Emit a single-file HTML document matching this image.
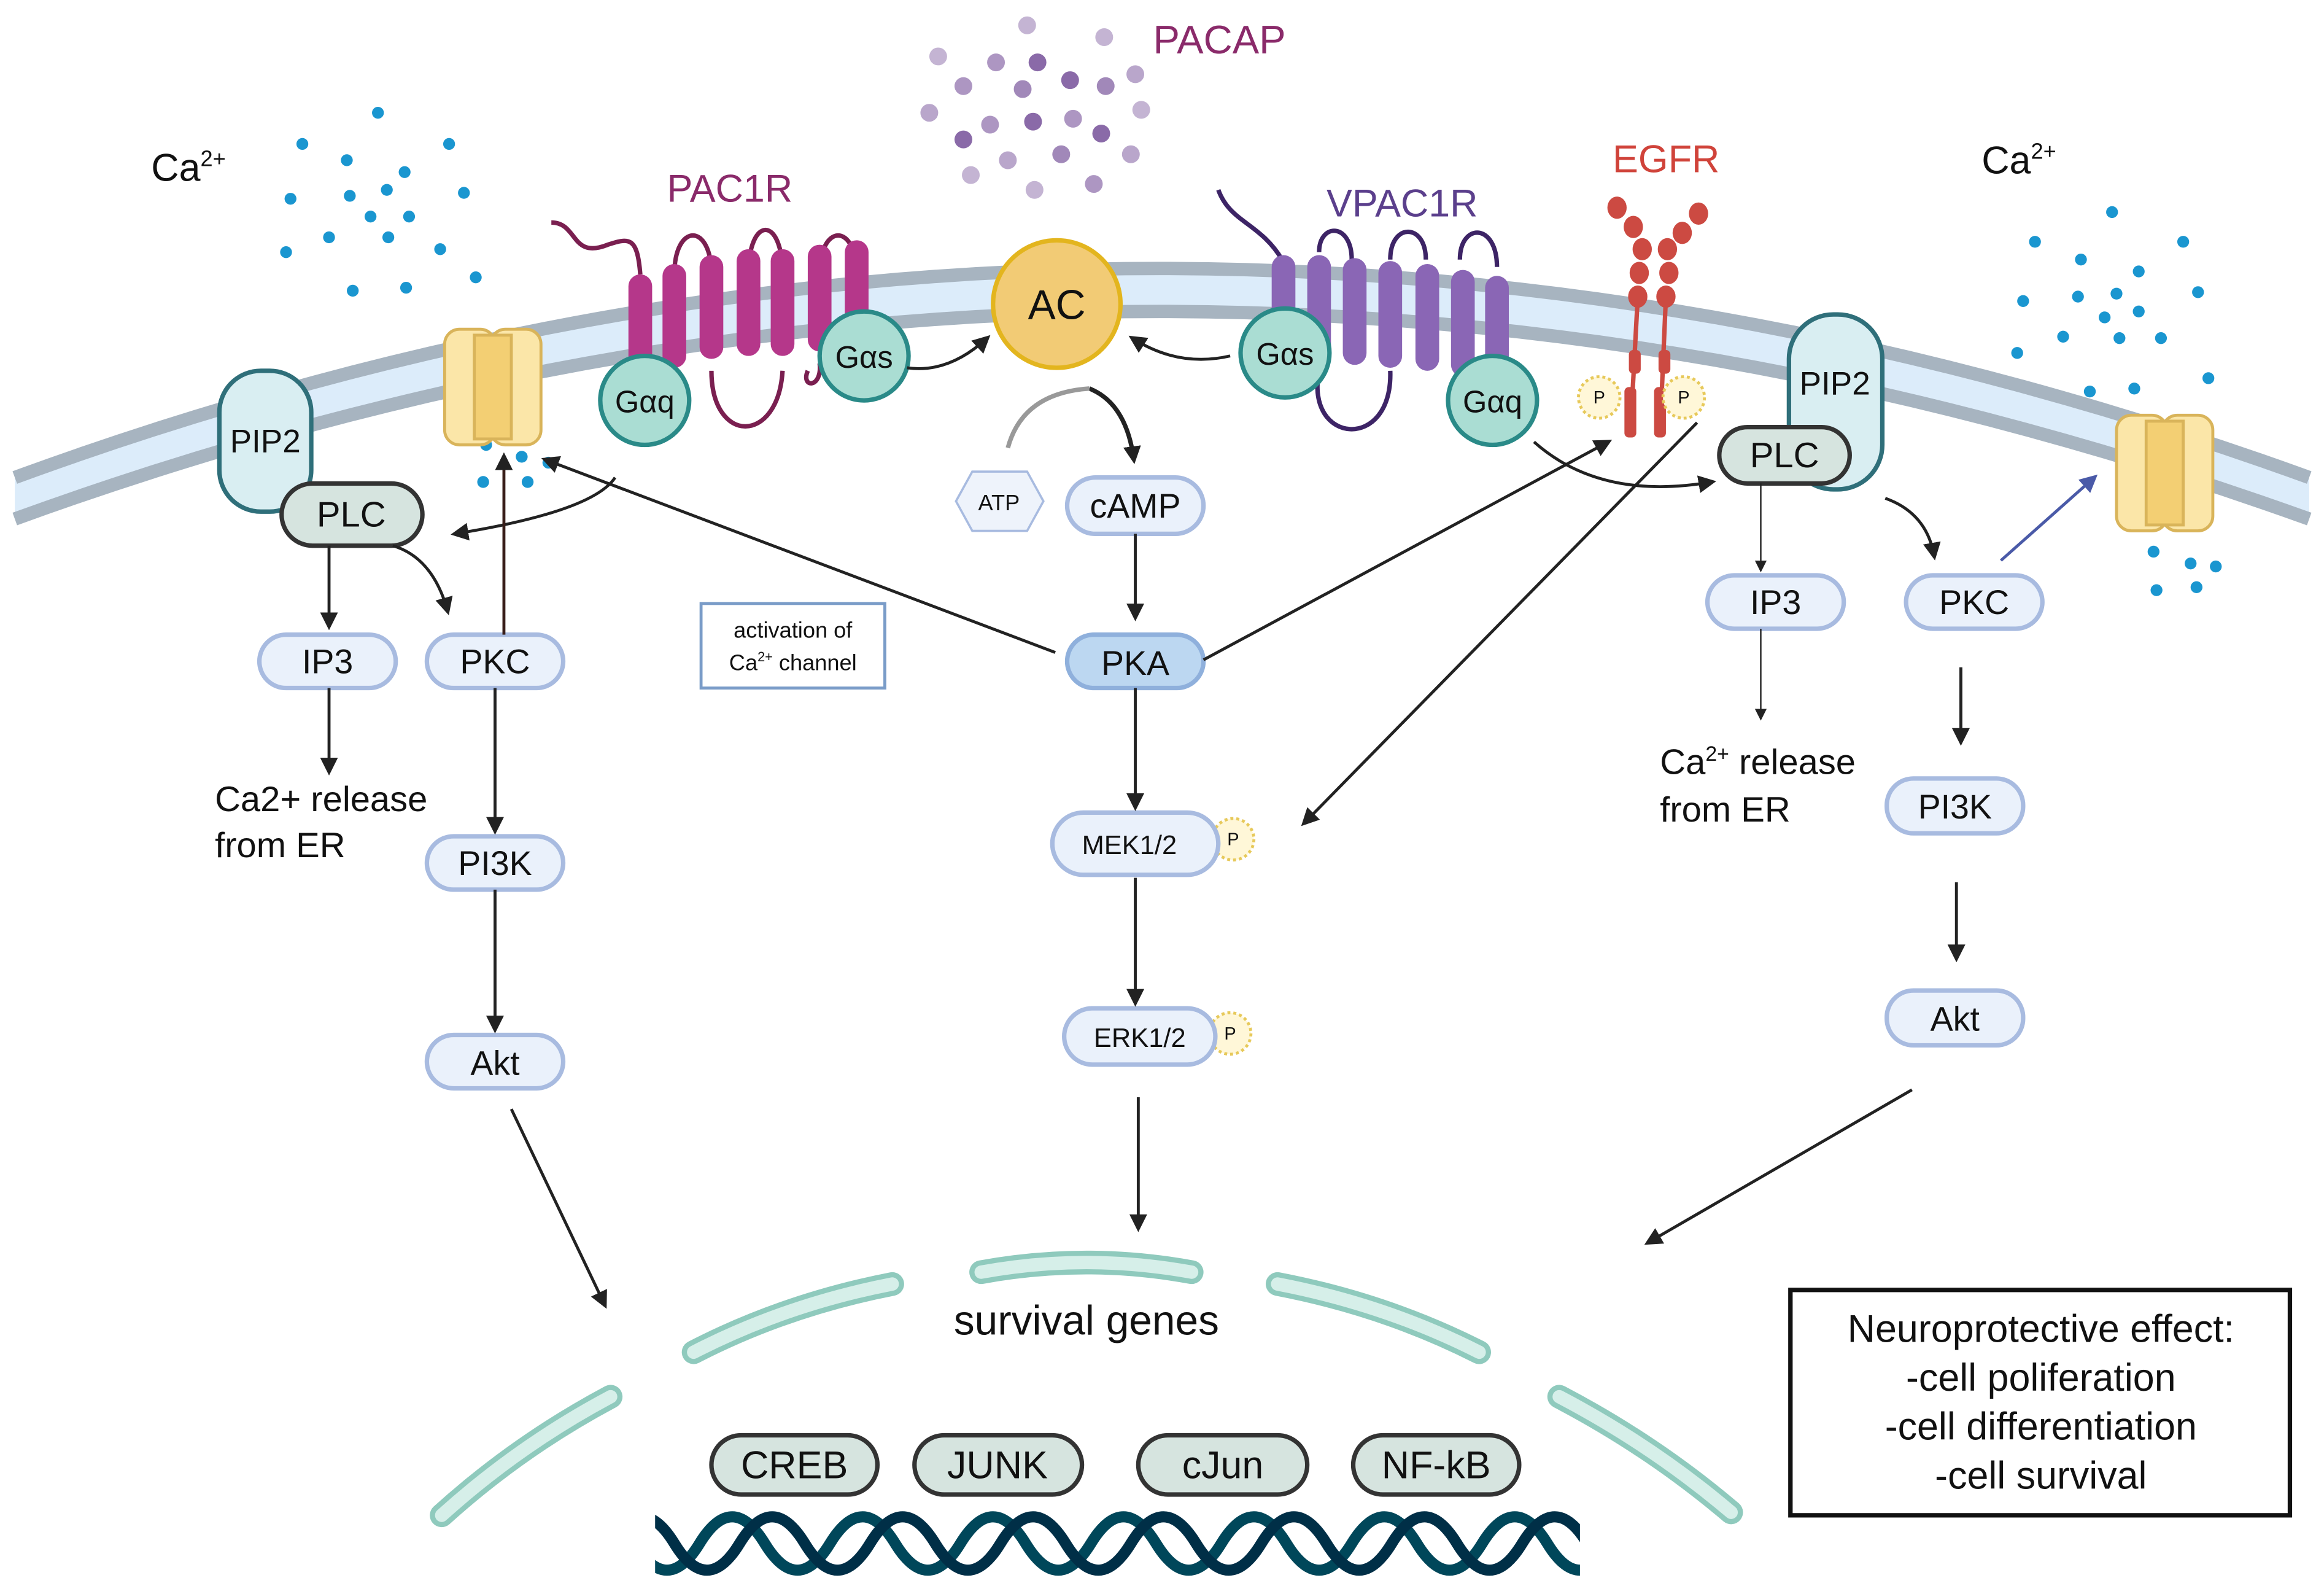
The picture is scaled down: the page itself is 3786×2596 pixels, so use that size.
<!DOCTYPE html>
<html><head><meta charset="utf-8"><style>
html,body{margin:0;padding:0;background:#fff;}
svg{display:block;}
text{font-family:"Liberation Sans",sans-serif;}
</style></head><body>
<svg width="3786" height="2596" viewBox="0 0 1568 1075" xmlns="http://www.w3.org/2000/svg">
<defs>
<marker id="ah" markerWidth="8" markerHeight="8" refX="6" refY="4" orient="auto" markerUnits="userSpaceOnUse" viewBox="0 0 8 8"><path d="M0,0 L8,4 L0,8 z" fill="#222"/></marker>
<marker id="ahb" markerWidth="12" markerHeight="12" refX="9" refY="6" orient="auto" markerUnits="userSpaceOnUse" viewBox="0 0 12 12"><path d="M0,0 L12,6 L0,12 z" fill="#222"/></marker>
<marker id="ahblue" markerWidth="12" markerHeight="12" refX="9" refY="6" orient="auto" markerUnits="userSpaceOnUse" viewBox="0 0 12 12"><path d="M0,0 L12,6 L0,12 z" fill="#4a5aa8"/></marker>
</defs>

<!-- membrane -->
<path d="M10,322 Q780,40 1558,322 L1558,350 Q780,70 10,350 Z" fill="#dcecfa"/>
<path d="M10,322 Q780,40 1558,322" fill="none" stroke="#a7b4c0" stroke-width="9"/>
<path d="M10,350 Q780,70 1558,350" fill="none" stroke="#a7b4c0" stroke-width="9"/>

<!-- PACAP dots -->
<g fill="#8a6aa8">
<circle cx="693" cy="17" r="6" opacity=".5"/><circle cx="745" cy="25" r="6" opacity=".5"/>
<circle cx="633" cy="38" r="6" opacity=".5"/><circle cx="672" cy="42" r="6" opacity=".7"/><circle cx="700" cy="42" r="6"/>
<circle cx="766" cy="50" r="6" opacity=".6"/><circle cx="650" cy="58" r="6" opacity=".7"/><circle cx="690" cy="60" r="6" opacity=".8"/>
<circle cx="722" cy="54" r="6"/><circle cx="746" cy="58" r="6" opacity=".8"/><circle cx="627" cy="76" r="6" opacity=".6"/>
<circle cx="668" cy="84" r="6" opacity=".7"/><circle cx="697" cy="82" r="6"/><circle cx="724" cy="80" r="6" opacity=".7"/>
<circle cx="770" cy="74" r="6" opacity=".5"/><circle cx="650" cy="94" r="6"/><circle cx="743" cy="90" r="6"/>
<circle cx="680" cy="108" r="6" opacity=".6"/><circle cx="716" cy="104" r="6" opacity=".8"/><circle cx="763" cy="104" r="6" opacity=".6"/>
<circle cx="655" cy="118" r="6" opacity=".5"/><circle cx="698" cy="128" r="6" opacity=".5"/><circle cx="738" cy="124" r="6" opacity=".7"/>
</g>
<text x="778" y="36" font-size="27" fill="#8a2a6a">PACAP</text>

<!-- Ca dots left -->
<g fill="#1a96d0">
<circle cx="255" cy="76" r="4"/><circle cx="204" cy="97" r="4"/><circle cx="303" cy="97" r="4"/><circle cx="234" cy="108" r="4"/>
<circle cx="273" cy="116" r="4"/><circle cx="196" cy="134" r="4"/><circle cx="236" cy="132" r="4"/><circle cx="261" cy="128" r="4"/>
<circle cx="313" cy="130" r="4"/><circle cx="250" cy="146" r="4"/><circle cx="276" cy="146" r="4"/><circle cx="222" cy="160" r="4"/>
<circle cx="262" cy="160" r="4"/><circle cx="193" cy="170" r="4"/><circle cx="297" cy="168" r="4"/><circle cx="238" cy="196" r="4"/>
<circle cx="274" cy="194" r="4"/><circle cx="321" cy="187" r="4"/>
<circle cx="328" cy="300" r="4"/><circle cx="352" cy="308" r="4"/><circle cx="370" cy="312" r="4"/><circle cx="326" cy="325" r="4"/><circle cx="356" cy="325" r="4"/>
</g>
<text x="102" y="122" font-size="26" fill="#111">Ca<tspan font-size="15" dy="-10">2+</tspan></text>
<!-- Ca dots right -->
<g fill="#1a96d0">
<circle cx="1425" cy="143" r="4"/><circle cx="1373" cy="163" r="4"/><circle cx="1404" cy="175" r="4"/><circle cx="1473" cy="163" r="4"/>
<circle cx="1443" cy="183" r="4"/><circle cx="1365" cy="203" r="4"/><circle cx="1402" cy="200" r="4"/><circle cx="1428" cy="198" r="4"/>
<circle cx="1483" cy="197" r="4"/><circle cx="1420" cy="214" r="4"/><circle cx="1443" cy="210" r="4"/><circle cx="1392" cy="227" r="4"/>
<circle cx="1430" cy="228" r="4"/><circle cx="1361" cy="238" r="4"/><circle cx="1458" cy="228" r="4"/><circle cx="1410" cy="264" r="4"/>
<circle cx="1440" cy="262" r="4"/><circle cx="1490" cy="255" r="4"/>
<circle cx="1453" cy="372" r="4"/><circle cx="1478" cy="380" r="4"/><circle cx="1495" cy="382" r="4"/><circle cx="1455" cy="398" r="4"/><circle cx="1482" cy="396" r="4"/>
</g>
<text x="1337" y="117" font-size="26" fill="#111">Ca<tspan font-size="15" dy="-10">2+</tspan></text>

<!-- Ca channels -->
<g stroke="#d9b45a" stroke-width="2">
<rect x="300" y="222" width="34" height="78" rx="10" fill="#fbe6a8"/><rect x="331" y="222" width="34" height="78" rx="10" fill="#fbe6a8"/>
<rect x="320" y="226" width="25" height="70" fill="#f3cf73"/>
<rect x="1428" y="280" width="34" height="78" rx="10" fill="#fbe6a8"/><rect x="1459" y="280" width="34" height="78" rx="10" fill="#fbe6a8"/>
<rect x="1448" y="284" width="25" height="70" fill="#f3cf73"/>
</g>

<!-- PAC1R -->
<g fill="none" stroke="#7a1f50" stroke-width="3">
<path d="M372,150 C390,150 385,175 410,165 C425,160 430,160 432,185"/>
<path d="M432,250 L432,260"/>
<path d="M455,185 C455,150 480,150 480,185"/>
<path d="M455,250 C455,270 455,280 455,290"/>
<path d="M480,250 C480,300 525,300 528,250"/>
<path d="M505,185 C505,145 528,145 528,185"/>
<path d="M553,185 C553,150 578,150 578,185"/>
<path d="M553,245 C555,262 540,262 545,250"/>
</g>
<g fill="#b5378a">
<rect x="424" y="185" width="16" height="70" rx="8"/><rect x="447" y="178" width="16" height="70" rx="8"/>
<rect x="472" y="172" width="16" height="70" rx="8"/><rect x="497" y="168" width="16" height="72" rx="8"/>
<rect x="520" y="168" width="16" height="72" rx="8"/><rect x="545" y="165" width="16" height="72" rx="8"/>
<rect x="570" y="162" width="16" height="70" rx="8"/>
</g>
<text x="450" y="136" font-size="26" fill="#8a2a6a">PAC1R</text>
<circle cx="435" cy="270" r="30" fill="#aaddd3" stroke="#2a8a88" stroke-width="3"/>
<text x="435" y="278" font-size="21" text-anchor="middle" fill="#111">Gαq</text>
<circle cx="583" cy="240" r="30" fill="#aaddd3" stroke="#2a8a88" stroke-width="3"/>
<text x="583" y="248" font-size="21" text-anchor="middle" fill="#111">Gαs</text>

<!-- AC -->
<circle cx="713" cy="205" r="43" fill="#f2cb75" stroke="#e3b51e" stroke-width="3"/>
<text x="713" y="215" font-size="28" text-anchor="middle" fill="#111">AC</text>

<!-- VPAC1R -->
<g fill="none" stroke="#3d2466" stroke-width="3">
<path d="M822,128 C830,150 850,150 865,175"/>
<path d="M890,170 C890,150 912,150 912,175"/>
<path d="M890,250 C880,300 940,305 938,250"/>
<path d="M938,175 C938,150 962,150 962,175"/>
<path d="M985,175 C985,150 1010,150 1010,180"/>
</g>
<g fill="#8a66b5">
<rect x="858" y="172" width="16" height="72" rx="8"/><rect x="882" y="172" width="16" height="72" rx="8"/>
<rect x="906" y="174" width="16" height="72" rx="8"/><rect x="930" y="176" width="16" height="72" rx="8"/>
<rect x="955" y="178" width="16" height="72" rx="8"/><rect x="979" y="182" width="16" height="72" rx="8"/>
<rect x="1002" y="186" width="16" height="70" rx="8"/>
</g>
<text x="895" y="146" font-size="26" fill="#5b3f8c">VPAC1R</text>
<circle cx="867" cy="238" r="30" fill="#aaddd3" stroke="#2a8a88" stroke-width="3"/>
<text x="867" y="246" font-size="21" text-anchor="middle" fill="#111">Gαs</text>
<circle cx="1007" cy="270" r="30" fill="#aaddd3" stroke="#2a8a88" stroke-width="3"/>
<text x="1007" y="278" font-size="21" text-anchor="middle" fill="#111">Gαq</text>

<!-- EGFR -->
<text x="1088" y="116" font-size="26" fill="#d0433a">EGFR</text>
<g fill="#cc4a42">
<path d="M1105,200 L1100,292" stroke="#cc4a42" stroke-width="3"/>
<path d="M1124,200 L1120,292" stroke="#cc4a42" stroke-width="3"/>
<ellipse cx="1091" cy="140" rx="6.5" ry="7.5"/><ellipse cx="1102" cy="153" rx="6.5" ry="7.5"/>
<ellipse cx="1108" cy="168" rx="6.5" ry="7.5"/><ellipse cx="1106" cy="184" rx="6.5" ry="7.5"/><ellipse cx="1105" cy="200" rx="6.5" ry="7.5"/>
<ellipse cx="1146" cy="144" rx="6.5" ry="7.5"/><ellipse cx="1135" cy="157" rx="6.5" ry="7.5"/>
<ellipse cx="1125" cy="168" rx="6.5" ry="7.5"/><ellipse cx="1126" cy="184" rx="6.5" ry="7.5"/><ellipse cx="1124" cy="200" rx="6.5" ry="7.5"/>
<rect x="1099" y="236" width="8" height="16" rx="3"/><rect x="1119" y="236" width="8" height="16" rx="3"/>
<rect x="1096" y="261" width="8" height="34" rx="3"/><rect x="1116" y="261" width="8" height="34" rx="3"/>
</g>
<g fill="#fff7d8" stroke="#e7c95a" stroke-width="2" stroke-dasharray="2 2">
<circle cx="1079" cy="268" r="14"/><circle cx="1136" cy="268" r="14"/>
<circle cx="832" cy="566" r="14"/><circle cx="830" cy="697" r="14"/>
</g>
<g font-size="12" text-anchor="middle" fill="#111">
<text x="1079" y="272">P</text><text x="1136" y="272">P</text><text x="832" y="570">P</text><text x="830" y="701">P</text>
</g>

<!-- PIP2 / PLC -->
<rect x="148" y="250" width="62" height="95" rx="28" fill="#d9eef2" stroke="#2f6f7a" stroke-width="3"/>
<text x="179" y="305" font-size="22" text-anchor="middle" fill="#111">PIP2</text>
<rect x="190" y="326" width="95" height="42" rx="21" fill="#d6e4df" stroke="#333" stroke-width="3"/>
<text x="237" y="355" font-size="24" text-anchor="middle" fill="#111">PLC</text>
<rect x="1207" y="212" width="63" height="118" rx="30" fill="#d9eef2" stroke="#2f6f7a" stroke-width="3"/>
<text x="1238" y="266" font-size="22" text-anchor="middle" fill="#111">PIP2</text>
<rect x="1160" y="288" width="88" height="38" rx="19" fill="#d6e4df" stroke="#333" stroke-width="3"/>
<text x="1204" y="315" font-size="24" text-anchor="middle" fill="#111">PLC</text>

<!-- ATP -->
<polygon points="645,338 656,318 693,318 704,338 693,358 656,358" fill="#eef3fb" stroke="#a8bbe0" stroke-width="1.5"/>
<text x="674" y="344" font-size="15" text-anchor="middle" fill="#111">ATP</text>

<!-- pills -->
<g fill="#eaf1fb" stroke="#a8bbe0" stroke-width="3">
<rect x="175" y="428" width="92" height="36" rx="18"/><rect x="288" y="428" width="92" height="36" rx="18"/>
<rect x="288" y="564" width="92" height="36" rx="18"/><rect x="288" y="698" width="92" height="36" rx="18"/>
<rect x="720" y="322" width="92" height="38" rx="19"/>
<rect x="710" y="548" width="112" height="42" rx="21"/><rect x="718" y="680" width="102" height="38" rx="19"/>
<rect x="1152" y="388" width="92" height="36" rx="18"/><rect x="1286" y="388" width="92" height="36" rx="18"/>
<rect x="1273" y="525" width="92" height="37" rx="18"/><rect x="1273" y="668" width="92" height="37" rx="18"/>
</g>
<rect x="720" y="428" width="92" height="36" rx="18" fill="#bcd7f1" stroke="#8fb0dc" stroke-width="3"/>
<g font-size="23" text-anchor="middle" fill="#111">
<text x="221" y="454">IP3</text><text x="334" y="454">PKC</text><text x="334" y="590">PI3K</text><text x="334" y="725">Akt</text>
<text x="766" y="349">cAMP</text><text x="766" y="455">PKA</text>
<text x="1198" y="414">IP3</text><text x="1332" y="414">PKC</text><text x="1319" y="552">PI3K</text><text x="1319" y="695">Akt</text>
</g>
<text x="762" y="576" font-size="18" text-anchor="middle" fill="#111">MEK1/2</text>
<text x="769" y="706" font-size="18" text-anchor="middle" fill="#111">ERK1/2</text>

<!-- activation box -->
<rect x="473" y="407" width="124" height="57" fill="#fff" stroke="#7a9cc8" stroke-width="2"/>
<text x="535" y="430" font-size="15" text-anchor="middle" fill="#111">activation of</text>
<text x="535" y="452" font-size="15" text-anchor="middle" fill="#111">Ca<tspan font-size="9" dy="-6">2+</tspan><tspan dy="6"> channel</tspan></text>

<!-- texts -->
<text x="145" y="547" font-size="24" fill="#111">Ca2+ release</text>
<text x="145" y="578" font-size="24" fill="#111">from ER</text>
<text x="1120" y="522" font-size="24" fill="#111">Ca<tspan font-size="14" dy="-9">2+</tspan><tspan dy="9"> release</tspan></text>
<text x="1120" y="554" font-size="24" fill="#111">from ER</text>

<!-- arrows -->
<g fill="none" stroke="#222" stroke-width="2">
<path d="M612,248 Q640,252 666,228" marker-end="url(#ahb)"/>
<path d="M830,240 Q795,248 764,228" marker-end="url(#ahb)"/>
<path d="M735,262 Q760,272 765,310" marker-end="url(#ahb)" stroke-width="3"/>
<path d="M766,360 L766,416" marker-end="url(#ahb)"/>
<path d="M766,464 L766,544" marker-end="url(#ahb)"/>
<path d="M766,592 L766,676" marker-end="url(#ahb)"/>
<path d="M768,740 L768,828" marker-end="url(#ahb)"/>
<path d="M712,440 L368,310" marker-end="url(#ahb)"/>
<path d="M812,445 L1085,298" marker-end="url(#ahb)"/>
<path d="M1145,285 L880,555" marker-end="url(#ahb)"/>
<path d="M415,322 Q400,345 307,360" marker-end="url(#ahb)"/>
<path d="M222,368 L222,422" marker-end="url(#ahb)"/>
<path d="M265,368 Q292,376 302,412" marker-end="url(#ahb)"/>
<path d="M222,464 L222,520" marker-end="url(#ahb)"/>
<path d="M340,428 L340,308" marker-end="url(#ahb)" stroke="#3a1f1a"/>
<path d="M334,464 L334,560" marker-end="url(#ahb)"/>
<path d="M334,600 L334,694" marker-end="url(#ahb)"/>
<path d="M345,748 L408,880" marker-end="url(#ahb)"/>
<path d="M1035,298 Q1080,338 1155,325" marker-end="url(#ahb)"/>
<path d="M1188,326 L1188,384" marker-end="url(#ah)" stroke-width="1"/>
<path d="M1188,424 L1188,484" marker-end="url(#ah)" stroke-width="1"/>
<path d="M1272,336 Q1300,346 1305,375" marker-end="url(#ahb)"/>
<path d="M1323,450 L1323,500" marker-end="url(#ahb)"/>
<path d="M1320,595 L1320,646" marker-end="url(#ahb)"/>
<path d="M1290,735 L1112,838" marker-end="url(#ahb)"/>
</g>
<path d="M680,302 Q690,265 735,262" fill="none" stroke="#999" stroke-width="3"/>
<path d="M1350,378 L1413,322" fill="none" stroke="#4a5aa8" stroke-width="2" marker-end="url(#ahblue)"/>

<!-- nuclear envelope -->
<g fill="none" stroke-linecap="round">
<g stroke="#8fcabd" stroke-width="16">
<path d="M298,1022 Q350,975 412,942"/><path d="M468,912 Q530,880 602,866"/><path d="M662,858 Q733,845 804,858"/>
<path d="M862,866 Q935,880 998,912"/><path d="M1052,942 Q1115,975 1168,1020"/>
</g>
<g stroke="#d6efe9" stroke-width="9">
<path d="M298,1022 Q350,975 412,942"/><path d="M468,912 Q530,880 602,866"/><path d="M662,858 Q733,845 804,858"/>
<path d="M862,866 Q935,880 998,912"/><path d="M1052,942 Q1115,975 1168,1020"/>
</g>
</g>
<text x="733" y="900" font-size="28" text-anchor="middle" fill="#111">survival genes</text>

<!-- TFs -->
<g fill="#d6e4df" stroke="#333" stroke-width="3">
<rect x="480" y="968" width="112" height="40" rx="20"/><rect x="617" y="968" width="113" height="40" rx="20"/>
<rect x="768" y="968" width="114" height="40" rx="20"/><rect x="913" y="968" width="112" height="40" rx="20"/>
</g>
<g font-size="26" text-anchor="middle" fill="#111">
<text x="536" y="997">CREB</text><text x="673" y="997">JUNK</text><text x="825" y="997">cJun</text><text x="969" y="997">NF-kB</text>
</g>

<!-- DNA -->
<svg x="442" y="1010" width="624" height="62" viewBox="442 1010 624 62" overflow="hidden">
<g fill="none" stroke-width="7.5">
<path stroke="#00475a" d="M384,1041 q22,-36 44,0 t44,0 t44,0 t44,0 t44,0 t44,0 t44,0 t44,0 t44,0 t44,0 t44,0 t44,0 t44,0 t44,0 t44,0 t44,0 t44,0 t44,0"/>
<path stroke="#002f47" d="M411,1041 q22,-36 44,0 t44,0 t44,0 t44,0 t44,0 t44,0 t44,0 t44,0 t44,0 t44,0 t44,0 t44,0 t44,0 t44,0 t44,0 t44,0 t44,0 t44,0"/>
</g>
</svg>

<!-- neuroprotective box -->
<rect x="1208" y="870" width="337" height="152" fill="#fff" stroke="#111" stroke-width="3"/>
<g font-size="26" text-anchor="middle" fill="#111">
<text x="1377" y="905">Neuroprotective effect:</text>
<text x="1377" y="938">-cell poliferation</text>
<text x="1377" y="971">-cell differentiation</text>
<text x="1377" y="1004">-cell survival</text>
</g>
</svg>
</body></html>
